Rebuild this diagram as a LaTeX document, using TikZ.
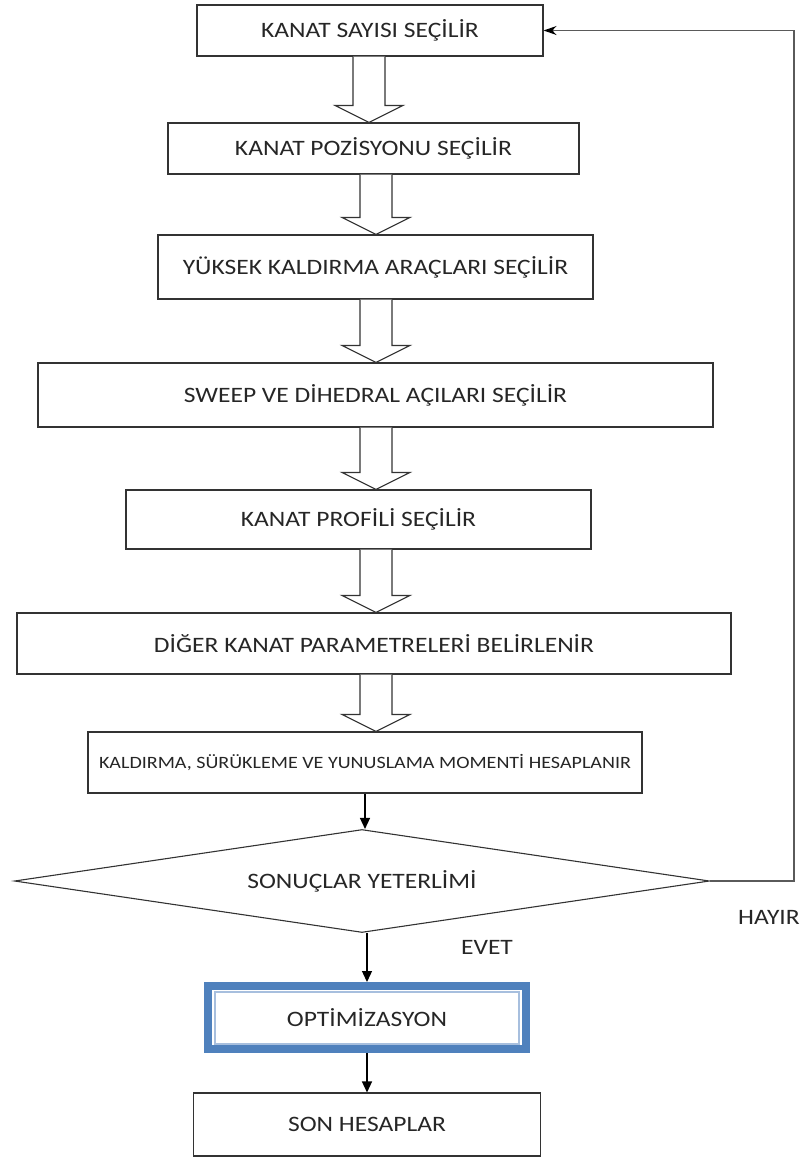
\documentclass[tikz,border=0pt]{standalone}
\usepackage{fontspec}
\setmainfont{Carlito}
\newfontfamily\flowfont[FakeStretch=1.16]{Carlito}
\usetikzlibrary{shapes.geometric,arrows.meta,calc}
\definecolor{frameblue}{HTML}{4F81BD}
\definecolor{lineblue}{HTML}{A7BFDE}
\definecolor{loopgray}{HTML}{5A5A5A}

% wide outlined arrow between two stacked boxes
\newcommand{\hollowarrow}[3]{%
  \draw[hollow] let \p1=(#1 |- #2.south), \p2=(#1 |- #3.north) in
    (\x1-16pt,\y1) -- (\x1-16pt,\y2+17pt) -- (\x1-34pt,\y2+17pt) -- (\x2,\y2)
    -- (\x1+34pt,\y2+17pt) -- (\x1+16pt,\y2+17pt) -- (\x1+16pt,\y1);}

\begin{document}
\begin{tikzpicture}[x=1pt,y=-1pt,
		box/.style={rectangle,draw=black!80,line width=1.1pt,inner sep=0pt,
			font=\flowfont\fontsize{22}{26}\selectfont,text=black!85},
		smallbox/.style={box,font=\flowfont\fontsize{17.3}{20}\selectfont},
		decision/.style={diamond,draw=black!80,line width=1.1pt,inner sep=0pt,aspect=6.75,
			font=\flowfont\fontsize{22}{26}\selectfont,text=black!85},
		optbox/.style={rectangle,draw=frameblue,line width=8pt,inner sep=0pt,
			font=\flowfont\fontsize{22}{26}\selectfont,text=black!85},
		answer/.style={font=\flowfont\fontsize{22}{26}\selectfont,text=black!85,inner sep=0pt},
		hollow/.style={draw=black!80,fill=white,line width=1.1pt,line join=miter},
		flow/.style={draw=black,line width=1.3pt,-{Triangle[length=11pt,width=10pt]}},
		loopline/.style={draw=loopgray,line width=1.4pt,-{Stealth[length=13pt,width=9pt,color=black]}}]

	\useasboundingbox (0,0) rectangle (803,1157);

	\node[box,minimum width=346pt,minimum height=51pt] (b1) at (370,30.5) {KANAT SAYISI SEÇİLİR};
	\node[box,minimum width=411pt,minimum height=51pt] (b2) at (373.5,148.5) {KANAT POZİSYONU SEÇİLİR};
	\node[box,minimum width=435pt,minimum height=64pt] (b3) at (375.5,267) {YÜKSEK KALDIRMA ARAÇLARI SEÇİLİR};
	\node[box,minimum width=675pt,minimum height=64pt] (b4) at (375.5,395) {SWEEP VE DİHEDRAL AÇILARI SEÇİLİR};
	\node[box,minimum width=465pt,minimum height=59pt] (b5) at (358.5,519.5) {KANAT PROFİLİ SEÇİLİR};
	\node[box,minimum width=714pt,minimum height=61pt] (b6) at (374,643.5) {DİĞER KANAT PARAMETRELERİ BELİRLENİR};
	\node[smallbox,minimum width=554pt,minimum height=61pt] (b7) at (365,762.5) {KALDIRMA, SÜRÜKLEME VE YUNUSLAMA MOMENTİ HESAPLANIR};
	\node[decision,minimum width=695pt,minimum height=103pt] (dec) at (362,881) {SONUÇLAR YETERLİMİ};
	\node[optbox,minimum width=318pt,minimum height=63pt] (opt) at (367,1017.5) {OPTİMİZASYON};
	\node[box,minimum width=347pt,minimum height=63pt] (son) at (367,1124.5) {SON HESAPLAR};

	\node[answer] (evet) at (487,947) {EVET};
	\node[answer] (hayir) at (769,917) {HAYIR};

	% inner thin frame of the optimisation box
	\draw[lineblue,line width=1.8pt] ($(opt.north west)+(11,10)$) rectangle ($(opt.south east)+(-11,-9)$);

	% axes of the wide arrows
	\coordinate (axA) at (369,0);
	\coordinate (axB) at (376,0);
	\coordinate (loopx) at (794,0);

	\hollowarrow{axA}{b1}{b2}
	\hollowarrow{axB}{b2}{b3}
	\hollowarrow{axB}{b3}{b4}
	\hollowarrow{axB}{b4}{b5}
	\hollowarrow{axB}{b5}{b6}
	\hollowarrow{axB}{b6}{b7}

	\draw[flow] (b7.south) -- (b7.south |- dec.north);
	\draw[flow] (opt.north |- dec.south) -- (opt.north);
	\draw[flow] (opt.south) -- (son.north);
	\draw[loopline] (dec.east) -| (loopx |- b1.east) -- (b1.east);
\end{tikzpicture}
\end{document}
